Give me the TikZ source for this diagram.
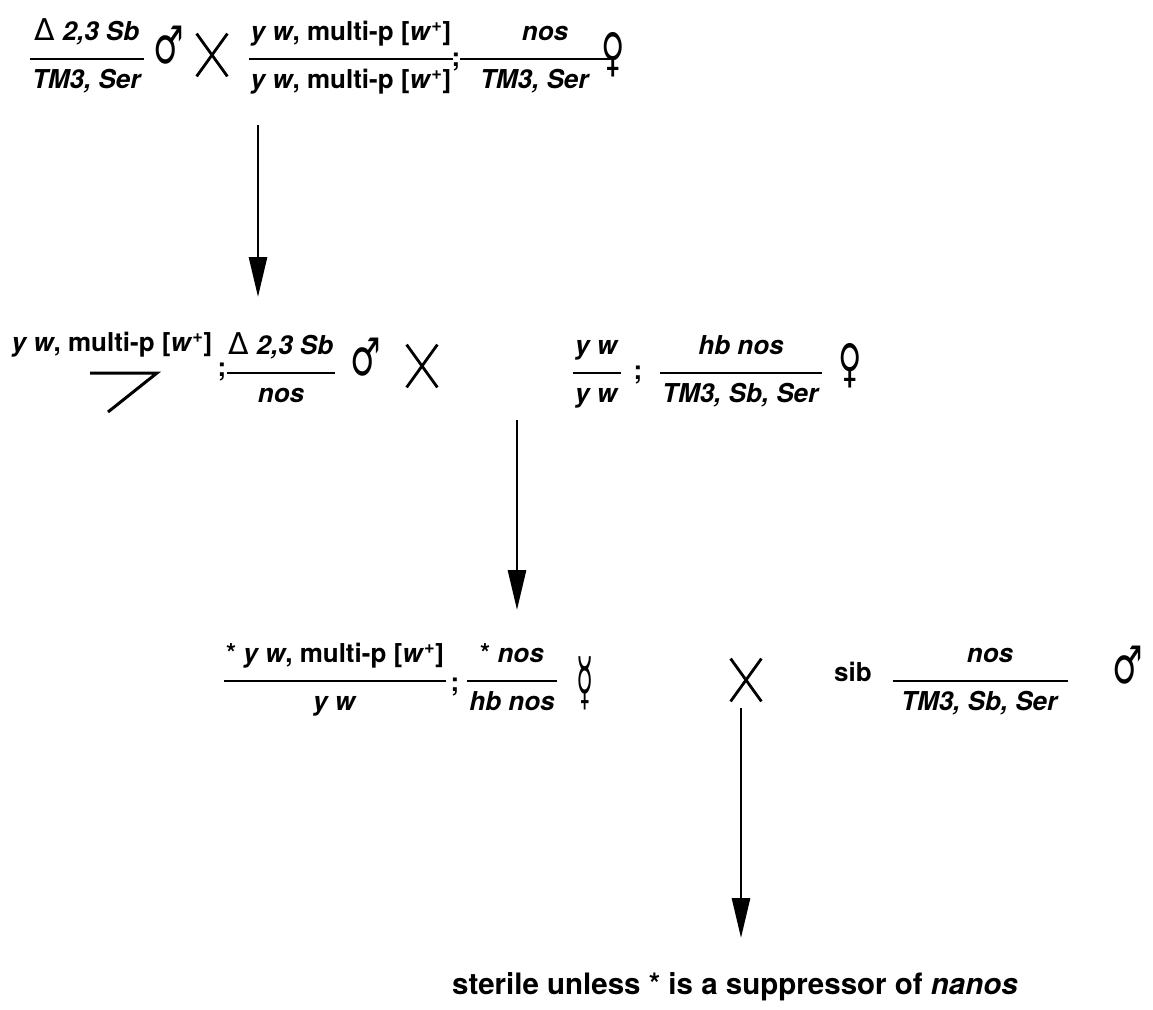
\documentclass[tikz,border=0pt]{standalone}
\usepackage{fontspec}
\setmainfont{TeX Gyre Heros}
\newfontfamily\symfont{DejaVu Sans}
\usetikzlibrary{arrows.meta, shapes.misc}

% genotype written as homologue over homologue
\newcommand{\chrfrac}[3][\width]{%
  \setlength{\arrayrulewidth}{2.6pt}%
  \setlength{\tabcolsep}{2pt}%
  \begin{tabular}{c}\makebox[#1]{#2}\\[8pt]\hline\rule{0pt}{28pt}\makebox[#1]{#3}\end{tabular}}
\newcommand{\gn}[1]{\textit{#1}}
\newcommand{\wplus}{[\gn{w}\textsuperscript{+}]}
\newcommand{\delt}{{\symfont\mdseries\fontsize{30}{31}\selectfont Δ}}
\newcommand{\male}{\scalebox{0.85}[1.3]{♂}}
\newcommand{\female}{\scalebox{0.8}[1.3]{♀}}
\newcommand{\herm}{\scalebox{0.7}[1.6]{☿}}

\begin{document}
\begin{tikzpicture}[x=1pt, y=-1pt,
  gene/.style={font={\fontsize{26}{31}\selectfont\bfseries}, inner sep=0pt},
  sex/.style={font={\symfont\fontsize{40}{46}\selectfont}, inner sep=0pt},
  cross/.style={cross out, draw, line width=2.8pt, minimum width=28pt, minimum height=40pt, inner sep=0pt},
  gen/.style={line width=2.8pt, -{Triangle[width=18pt, length=40pt]}},
]
\useasboundingbox (0,0) rectangle (1153,1009);

% parents
\node[gene] (p1m) at (87,58) {\chrfrac{\delt{} \gn{2,3 Sb}}{\gn{TM3, Ser}}};
\node[sex] (p1msex) at (169,45) {\male};
\node[cross] (x1) at (212,55) {};
\node[gene] (p1fx) at (351,58) {\chrfrac{\gn{y w}, multi-p \wplus}{\gn{y w}, multi-p \wplus}};
\node[gene] (p1semi) at (456,62) {;};
\node[gene] (p1f3) at (535,58) {\chrfrac[146pt]{\hspace{20pt}\gn{nos}}{\gn{TM3, Ser}}};
\node[sex] (p1fsex) at (613,55) {\female};

\coordinate (a1) at (258,125);
\coordinate (b1) at (258,297);
\draw[gen] (a1) -- (b1);

% F1 cross
\node[gene] (f1y) at (112,345) {\gn{y w}, multi-p \wplus};
\coordinate (hk1) at (90,373);
\coordinate (hk2) at (157,373);
\coordinate (hk3) at (108,412);
\draw[line width=3pt] (hk1) -- (hk2) -- (hk3);
\node[gene] (f1semi) at (222,372) {;};
\node[gene] (f1m3) at (281,372) {\chrfrac{\delt{} \gn{2,3 Sb}}{\gn{nos}}};
\node[sex] (f1msex) at (366,357) {\male};
\node[cross] (x2) at (422,366) {};
\node[gene] (f1fx) at (597,372) {\chrfrac{\gn{y w}}{\gn{y w}}};
\node[gene] (f1fsemi) at (638,375) {;};
\node[gene] (f1f3) at (741,372) {\chrfrac{\gn{hb nos}}{\gn{TM3, Sb, Ser}}};
\node[sex] (f1fsex) at (850,366) {\female};

\coordinate (a2) at (517,420);
\coordinate (b2) at (517,610);
\draw[gen] (a2) -- (b2);

% F2 cross to sibs
\node[gene] (f2x) at (335,680) {\chrfrac{* \gn{y w}, multi-p \wplus}{\gn{y w}}};
\node[gene] (f2semi) at (455,687) {;};
\node[gene] (f2third) at (512,680) {\chrfrac{* \gn{nos}}{\gn{hb nos}}};
\node[sex] (f2sex) at (585,683) {\herm};
\node[cross] (x3) at (746,680) {};
\node[gene] (sib) at (853,672) {sib};
\node[gene] (sibthird) at (980,680) {\chrfrac[171pt]{\hspace{20pt}\gn{nos}}{\gn{TM3, Sb, Ser}}};
\node[sex] (sibsex) at (1128,665) {\male};

\coordinate (a3) at (741,708);
\coordinate (b3) at (741,938);
\draw[gen] (a3) -- (b3);

\node[font={\fontsize{29.5}{35}\selectfont\bfseries}, inner sep=0pt] (result) at (735,987) {sterile unless * is a suppressor of \gn{nanos}};
\end{tikzpicture}
\end{document}
